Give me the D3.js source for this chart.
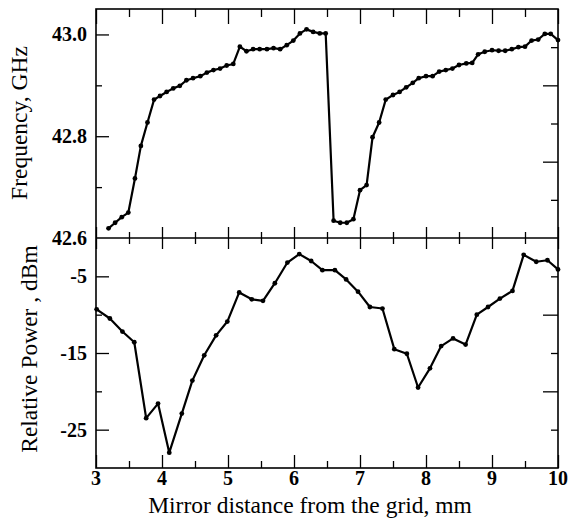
<!DOCTYPE html>
<html lang="en">
  <head>
    <meta charset="utf-8">
    <title>Frequency and power vs mirror distance</title>
    <style>
      body { margin: 0; background: white; }
      svg { display: block; }
      .tick line { stroke: black; stroke-width: 1.3; }
      .ticklabel { font-family: "Liberation Serif", serif; font-weight: bold; font-size: 20px; fill: black; }
      .title { font-family: "Liberation Serif", serif; font-size: 23.5px; fill: black; }
    </style>
    <script src="https://d3js.org/d3.v7.min.js"></script>
  </head>
  <body>
    <div class="viz"></div>
    <script>

    // frequency panel
    const distFreq = [3.19,3.29,3.39,3.49,3.59,3.68,3.78,3.88,3.97,
      4.07,4.17,4.27,4.37,4.47,4.58,4.68,4.78,4.88,4.98,
      5.08,5.18,5.28,5.38,5.48,5.59,5.69,5.79,5.89,5.99,
      6.09,6.19,6.29,6.39,6.48,
      6.60,6.70,6.80,6.90,
      7.00,7.10,7.19,7.29,7.39,7.50,7.60,7.70,7.80,7.89,
      8.00,8.10,8.20,8.30,8.40,8.50,8.61,8.70,8.79,8.89,
      9.00,9.10,9.20,9.30,9.40,9.50,9.60,9.70,9.80,9.89,
      10.0]
    const freqGHz = [42.619,42.630,42.641,42.650,42.717,42.781,42.827,42.872,42.879,
      42.887,42.894,42.899,42.910,42.914,42.918,42.925,42.930,42.933,42.939,
      42.942,42.976,42.967,42.971,42.971,42.971,42.973,42.971,42.979,42.988,
      43.002,43.010,43.005,43.002,43.002,
      42.634,42.630,42.630,42.637,
      42.694,42.704,42.798,42.827,42.872,42.881,42.887,42.896,42.905,42.914,
      42.918,42.918,42.927,42.930,42.933,42.940,42.943,42.944,42.961,42.966,
      42.969,42.968,42.968,42.971,42.975,42.976,42.988,42.990,43.001,43.001,
      42.989]

    // power panel
    const distPower = [3.01,3.21,3.40,3.58,3.76,3.94,4.11,4.30,4.46,4.64,
      4.82,4.99,5.17,5.36,5.53,5.71,5.90,6.08,6.26,6.43,
      6.62,6.79,6.97,7.15,7.34,7.52,7.71,7.88,8.06,8.23,
      8.41,8.60,8.77,8.94,9.12,9.31,9.48,9.67,9.84,10.0]
    const powerDbm = [-9.3,-10.5,-12.2,-13.6,-23.5,-21.6,-28.0,-22.9,-18.6,-15.3,
      -12.7,-10.9,-7.1,-8.0,-8.2,-5.9,-3.2,-2.1,-3.0,-4.2,
      -4.2,-5.4,-7.0,-9.0,-9.2,-14.5,-15.1,-19.5,-17.0,-14.1,
      -13.1,-13.9,-10.0,-9.0,-7.9,-6.9,-2.2,-3.1,-2.9,-4.1]

    // ticks
    const xMajor = [3,4,5,6,7,8,9,10]
    const xMinor = [3.5,4.5,5.5,6.5,7.5,8.5,9.5]
    const freqLabels = [42.6,42.8,43.0]
    const freqMinor = [42.7,42.9]
    const freqRightMajor = [10,20]
    const freqRightMinor = [5,15,25]
    const powerLabels = [-5,-15,-25]
    const powerMinor = [-10,-20]

    const W = 571, H = 526
    const xL = 96, xR = 558, yTop = 9, yMid = 238, yBot = 468

    const svg = d3.select(".viz").append("svg")
      .attr("width", W)
      .attr("height", H)

    const x = d3.scaleLinear().domain([3,10]).range([xL,xR])
    const yF = d3.scaleLinear().domain([42.6,43.05]).range([yMid,yTop])
    const yFr = d3.scaleLinear().domain([0,30]).range([yMid,yTop])
    const yP = d3.scaleLinear().domain([-30,0]).range([yBot,yMid])

    const noDomain = g => g.select(".domain").remove()

    function ticks(axis, vals, size, tx, ty) {
      svg.append("g")
        .attr("transform", `translate(${tx},${ty})`)
        .call(axis.tickValues(vals).tickSize(size).tickFormat(""))
        .call(noDomain)
    }

    // x ticks: top edge, middle line (both ways), bottom edge
    ticks(d3.axisBottom(x), xMajor, 15, 0, yTop)
    ticks(d3.axisBottom(x), xMinor, 8, 0, yTop)
    ticks(d3.axisTop(x), xMajor, 11, 0, yMid)
    ticks(d3.axisTop(x), xMinor, 6, 0, yMid)
    ticks(d3.axisBottom(x), xMajor, 11, 0, yMid)
    ticks(d3.axisBottom(x), xMinor, 6, 0, yMid)
    ticks(d3.axisTop(x), xMajor, 13, 0, yBot)
    ticks(d3.axisTop(x), xMinor, 7, 0, yBot)

    // y ticks
    ticks(d3.axisRight(yF), freqLabels.slice(1), 13, xL, 0)
    ticks(d3.axisRight(yF), freqMinor, 6, xL, 0)
    ticks(d3.axisLeft(yFr), freqRightMajor, 15, xR, 0)
    ticks(d3.axisLeft(yFr), freqRightMinor, 7, xR, 0)
    ticks(d3.axisRight(yP), powerLabels, 13, xL, 0)
    ticks(d3.axisRight(yP), powerMinor, 6, xL, 0)
    ticks(d3.axisLeft(yP), powerMinor, 15, xR, 0)
    ticks(d3.axisLeft(yP), powerLabels, 7, xR, 0)

    // frame
    svg.append("rect")
      .attr("x", xL).attr("y", yTop)
      .attr("width", xR-xL).attr("height", yBot-yTop)
      .attr("fill", "none").attr("stroke", "black").attr("stroke-width", 1.6)
    svg.append("line")
      .attr("x1", xL).attr("x2", xR).attr("y1", yMid).attr("y2", yMid)
      .attr("stroke", "black").attr("stroke-width", 1.6)

    // tick labels
    svg.selectAll(".xl").data(xMajor).join("text")
      .attr("class", "ticklabel")
      .attr("x", d => x(d)).attr("y", 485)
      .attr("text-anchor", "middle")
      .text(d => d)
    svg.selectAll(".fl").data(freqLabels).join("text")
      .attr("class", "ticklabel")
      .attr("x", 87).attr("y", d => yF(d)).attr("dy", "0.35em")
      .attr("text-anchor", "end")
      .text(d3.format(".1f"))
    svg.selectAll(".pl").data(powerLabels).join("text")
      .attr("class", "ticklabel")
      .attr("x", 87).attr("y", d => yP(d)).attr("dy", "0.35em")
      .attr("text-anchor", "end")
      .text(d => d)

    // series
    const freqData = distFreq.map((d,i) => ({x:d, y:freqGHz[i]}))
    const powerData = distPower.map((d,i) => ({x:d, y:powerDbm[i]}))

    function series(data, y) {
      svg.append("path")
        .datum(data)
        .attr("fill", "none")
        .attr("stroke", "black")
        .attr("stroke-width", 2.2)
        .attr("stroke-linejoin", "round")
        .attr("d", d3.line().x(d => x(d.x)).y(d => y(d.y)))
      svg.append("g").selectAll("circle")
        .data(data)
        .join("circle")
        .attr("cx", d => x(d.x))
        .attr("cy", d => y(d.y))
        .attr("r", 2.4)
        .attr("fill", "black")
    }
    series(freqData, yF)
    series(powerData, yP)

    // titles
    svg.append("text")
      .attr("class", "title")
      .attr("x", 310).attr("y", 513)
      .attr("text-anchor", "middle")
      .text("Mirror distance from the grid, mm")
    svg.append("text")
      .attr("class", "title")
      .attr("transform", "translate(27,123) rotate(-90)")
      .attr("text-anchor", "middle")
      .text("Frequency, GHz")
    svg.append("text")
      .attr("class", "title")
      .attr("transform", "translate(37,349) rotate(-90)")
      .attr("text-anchor", "middle")
      .text("Relative Power , dBm")
    </script>
  </body>
</html>
